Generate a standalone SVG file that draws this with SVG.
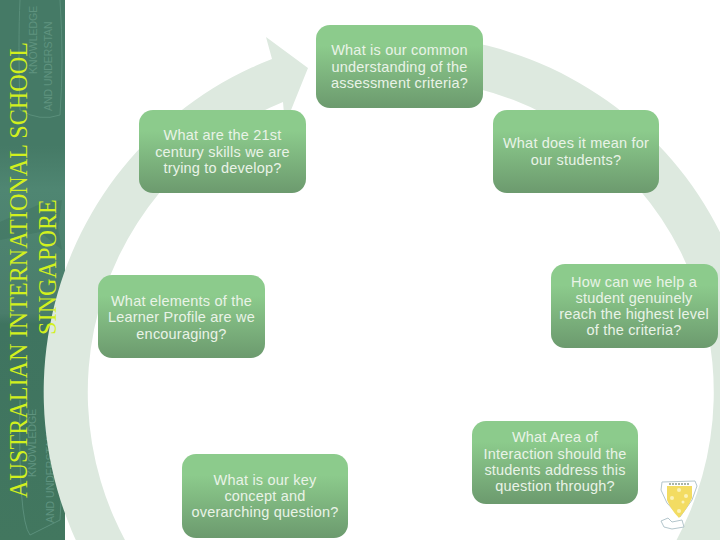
<svg xmlns="http://www.w3.org/2000/svg" width="720" height="540" viewBox="0 0 720 540">
<defs>
<linearGradient id="box" x1="0" y1="0" x2="0" y2="1">
<stop offset="0" stop-color="#8ccb8c"/><stop offset="0.25" stop-color="#8ccb8c"/><stop offset="1" stop-color="#6c9a6e"/>
</linearGradient>
<linearGradient id="panel" x1="0" y1="0" x2="0" y2="1">
<stop offset="0" stop-color="#457a66"/><stop offset="0.27" stop-color="#457a66"/><stop offset="0.35" stop-color="#4f8672"/><stop offset="0.58" stop-color="#4a7d6b"/><stop offset="0.6" stop-color="#3f7460"/><stop offset="1" stop-color="#42775f"/>
</linearGradient>
</defs>
<style>
.n{fill:url(#box)}
.t{font-family:"Liberation Sans",Arial,sans-serif;font-size:14.5px;fill:#e9f3e7;text-anchor:middle;letter-spacing:.2px}
.s{font-family:"Liberation Serif","Times New Roman",serif;font-size:24.2px;fill:#d2f01e;text-anchor:middle}
.w{font-family:"Liberation Sans",Arial,sans-serif;font-size:10.5px;fill:#5f937f}
.o{fill:none;stroke:#5a8f7b;stroke-width:1}
</style>
<rect width="720" height="540" fill="#ffffff"/>
<g id="panel-bg">
<rect x="0" y="0" width="65" height="540" fill="url(#panel)"/>
<path class="o" d="M20 0Q18 40 20 110Q40 122 60 115Q64 60 60 0M60 400Q64 470 60 520L30 535Q18 520 20 400"/>
<path d="M38 205L62 200L58 228L62 250L40 232L0 240L0 222Z" fill="#3f7460" opacity=".5"/>
<text class="w" transform="translate(37 74) rotate(-90)">KNOWLEDGE</text>
<text class="w" transform="translate(52 111) rotate(-90)">AND UNDERSTAN</text>
<text class="w" transform="translate(36 477) rotate(-90)">KNOWLEDGE</text>
<text class="w" transform="translate(54 523) rotate(-90)">AND UNDERSTAND</text>
</g>
<g id="connectors">
<path fill="#dde9df" d="M401 35A357 357 0 1 1 272 59L266 37L308 68L285 125L283 102A313 313 0 1 0 401 79Z"/>
</g>
<g id="title">
<text class="s" transform="translate(27 270) rotate(-90)">AUSTRALIAN INTERNATIONAL SCHOOL</text>
<text class="s" transform="translate(56 267) rotate(-90)">SINGAPORE</text>
</g>
<g id="n1"><rect class="n" x="316" y="25" width="167" height="83" rx="14"/><text class="t"><tspan x="399.500" y="55">What is our common</tspan><tspan x="399.500" y="71.500">understanding of the</tspan><tspan x="399.500" y="88">assessment criteria?</tspan></text></g>
<g id="n2"><rect class="n" x="139" y="110" width="167" height="83" rx="14"/><text class="t"><tspan x="222.500" y="140">What are the 21st</tspan><tspan x="222.500" y="156.500">century skills we are</tspan><tspan x="222.500" y="173">trying to develop?</tspan></text></g>
<g id="n3"><rect class="n" x="493" y="110" width="166" height="83" rx="14"/><text class="t"><tspan x="576" y="148">What does it mean for</tspan><tspan x="576" y="165">our students?</tspan></text></g>
<g id="n4"><rect class="n" x="98" y="275" width="167" height="83" rx="14"/><text class="t"><tspan x="181.500" y="306">What elements of the</tspan><tspan x="181.500" y="322">Learner Profile are we</tspan><tspan x="181.500" y="339">encouraging?</tspan></text></g>
<g id="n5"><rect class="n" x="551" y="264" width="167" height="84" rx="14"/><text class="t"><tspan x="634" y="287">How can we help a</tspan><tspan x="634" y="303">student genuinely</tspan><tspan x="634" y="319">reach the highest level</tspan><tspan x="634" y="335">of the criteria?</tspan></text></g>
<g id="n6"><rect class="n" x="182" y="454" width="166" height="84" rx="14"/><text class="t"><tspan x="265" y="484.500">What is our key</tspan><tspan x="265" y="501">concept and</tspan><tspan x="265" y="517">overarching question?</tspan></text></g>
<g id="n7"><rect class="n" x="472" y="421" width="166" height="83" rx="14"/><text class="t"><tspan x="555" y="442">What Area of</tspan><tspan x="555" y="458.500">Interaction should the</tspan><tspan x="555" y="474.500">students address this</tspan><tspan x="555" y="491">question through?</tspan></text></g>
<g id="crest">
<path d="M662 482L695 481L697 486L692 500L680 517L667 503L661 490Z" fill="#ffffff" stroke="#b4c6cc" stroke-width="1"/>
<path d="M667 486H692L692 498Q688 508 679 518Q671 510 667 500Z" fill="#f3dc62"/>
<circle cx="679" cy="490" r="2" fill="#fbf2b8"/><circle cx="686" cy="496" r="2" fill="#fbf2b8"/><circle cx="672" cy="498" r="2" fill="#fbf2b8"/><circle cx="683" cy="502" r="1.500" fill="#fbf2b8"/><circle cx="679" cy="511" r="2" fill="#fbf2b8"/>
<path d="M669 484H690" stroke="#8d9d8a" stroke-width="1.500" stroke-dasharray="2 1"/>
<path d="M661 521L668 518L672 522L682 520L684 527L672 529L664 527Z" fill="#ffffff" stroke="#b4c6cc" stroke-width="1"/>
</g>
</svg>
